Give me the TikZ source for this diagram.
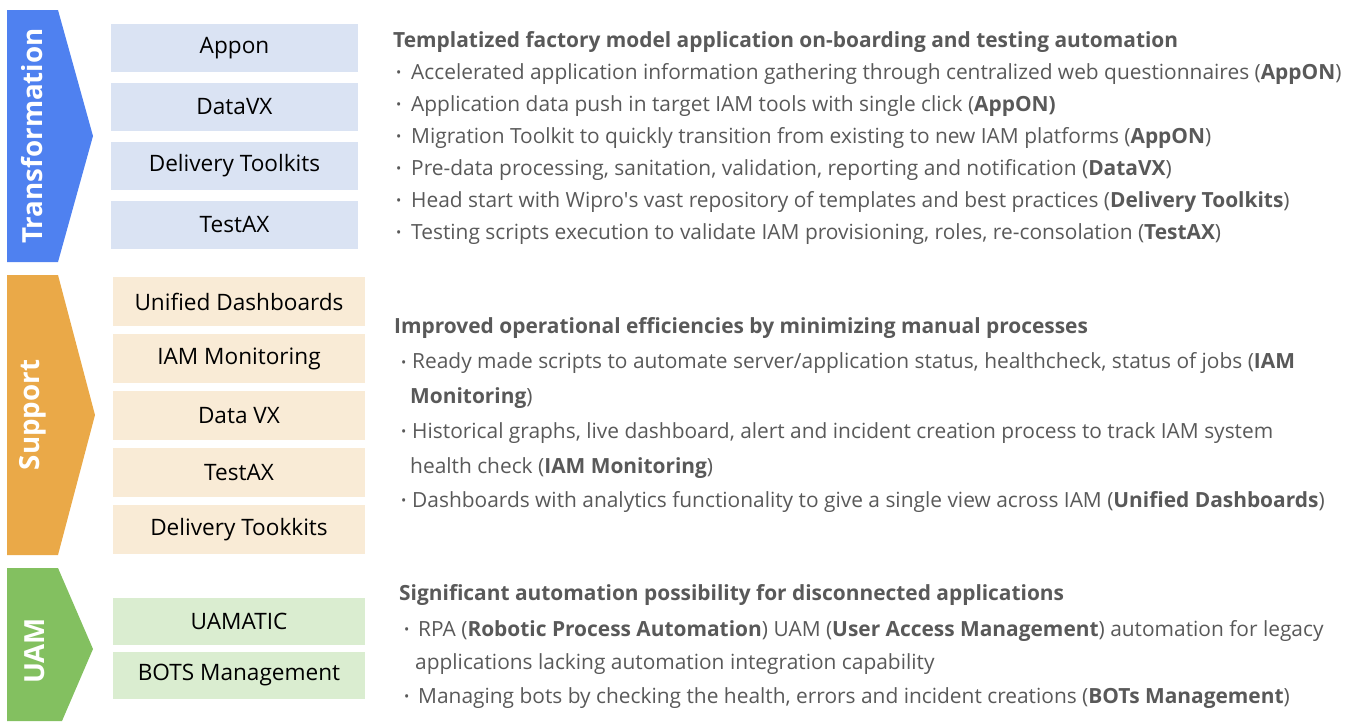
\documentclass[tikz,border=0pt]{standalone}
\usepackage{fontspec}
\setmainfont{Open Sans}

\definecolor{transblue}{HTML}{4F81F0}
\definecolor{supportorange}{HTML}{EAA948}
\definecolor{uamgreen}{HTML}{83C060}
\definecolor{transfill}{HTML}{DAE3F3}
\definecolor{supportfill}{HTML}{F9EBD6}
\definecolor{uamfill}{HTML}{DAEDD0}
\definecolor{bodygray}{HTML}{595959}

\def\bodysize{\fontsize{20.9}{25}\selectfont}
\newcommand{\bul}[1][15pt]{\makebox[#1][l]{\fontsize{14}{14}\selectfont\raisebox{1.5pt}{•}}}

\begin{document}
\begin{tikzpicture}[x=1pt,y=-1pt]
    \tikzstyle{tool}=[inner sep=0pt, text=black, font=\fontsize{22.6}{27}\selectfont]
    \tikzstyle{trans tool}=[tool, fill=transfill, minimum width=247pt, minimum height=48pt]
    \tikzstyle{support tool}=[tool, fill=supportfill, minimum width=252pt, minimum height=49pt]
    \tikzstyle{uam tool}=[tool, fill=uamfill, minimum width=252pt, minimum height=47pt]
    \tikzstyle{stage}=[rotate=90, text=white, inner sep=0pt, font=\fontsize{27.7}{33}\selectfont\bfseries]
    \tikzstyle{heading}=[anchor=base west, inner sep=0pt, text=bodygray, font=\bodysize\bfseries]
    \tikzstyle{point}=[anchor=base west, inner sep=0pt, text=bodygray, font=\bodysize]

    \useasboundingbox (0,0) rectangle (1352,721);

    % Draw the stage arrows
    \fill[transblue] (7,10) -- (58,10) -- (93,136) -- (58,262) -- (7,262) -- cycle;
    \fill[supportorange] (7,275) -- (58,275) -- (95,415) -- (58,555) -- (7,555) -- cycle;
    \fill[uamgreen] (7,568) -- (58,568) -- (93,649) -- (62,721) -- (7,721) -- cycle;

    \node[stage] (S-trans) at (32,136) {Transformation};
    \node[stage] (S-support) at (33,415) {Support};
    \node[stage] (S-uam) at (35,651) {UAM};

    % Draw the tool boxes of each stage
    \foreach \name / \y / \txt in {1/48/Appon, 2/107/DataVX, 3/166/Delivery Toolkits, 4/225/TestAX}
        \node[trans tool] (T-\name) at (234.5,\y) {\txt};

    \foreach \name / \y / \txt in {1/301.5/Unified Dashboards, 2/358.5/IAM Monitoring,
                                   3/415.5/Data VX, 4/472.5/TestAX, 5/529.5/Delivery Tookkits}
        \node[support tool] (U-\name) at (239,\y) {\txt};

    \foreach \name / \y / \txt in {1/621.5/UAMATIC, 2/675.5/BOTS Management}
        \node[uam tool] (M-\name) at (239,\y) {\txt};

    % Describe the transformation stage
    \node[heading] (H-trans) at (393,47.5)
        {Templatized factory model application on-boarding and testing automation};
    \foreach \name / \y / \txt in {
        1/79/{Accelerated application information gathering through centralized web questionnaires (\textbf{AppON})},
        2/111/{Application data push in target IAM tools with single click (\textbf{AppON)}},
        3/143/{Migration Toolkit to quickly transition from existing to new IAM platforms (\textbf{AppON})},
        4/175/{Pre-data processing, sanitation, validation, reporting and notification (\textbf{DataVX})},
        5/207/{Head start with Wipro\textquotesingle s vast repository of templates and best practices (\textbf{Delivery Toolkits})},
        6/239/{Testing scripts execution to validate IAM provisioning, roles, re-consolation (\textbf{TestAX})}}
        \node[point] (P-trans-\name) at (396,\y) {\bul\txt};

    % Describe the support stage
    \node[heading] (H-support) at (394,333.5)
        {Improved operational efficiencies by minimizing manual processes};
    \node[point] (P-support-1) at (401,368.5)
        {\bul[11pt]Ready made scripts to automate server/application status, healthcheck, status of jobs (\textbf{IAM}};
    \node[point] (P-support-1b) at (410,403) {\textbf{Monitoring})};
    \node[point] (P-support-2) at (401,438)
        {\bul[11pt]Historical graphs, live dashboard, alert and incident creation process to track IAM system};
    \node[point] (P-support-2b) at (410,473) {health check (\textbf{IAM Monitoring})};
    \node[point] (P-support-3) at (401,507)
        {\bul[11pt]Dashboards with analytics functionality to give a single view across IAM (\textbf{Unified Dashboards})};

    % Describe the UAM stage
    \node[heading] (H-uam) at (399,600)
        {Significant automation possibility for disconnected applications};
    \node[point] (P-uam-1) at (404,636)
        {\bul[14pt]RPA (\textbf{Robotic Process Automation}) UAM (\textbf{User Access Management}) automation for legacy};
    \node[point] (P-uam-1b) at (415,669.5) {applications lacking automation integration capability};
    \node[point] (P-uam-2) at (404,703)
        {\bul[14pt]Managing bots by checking the health, errors and incident creations (\textbf{BOTs Management})};
\end{tikzpicture}
\end{document}
